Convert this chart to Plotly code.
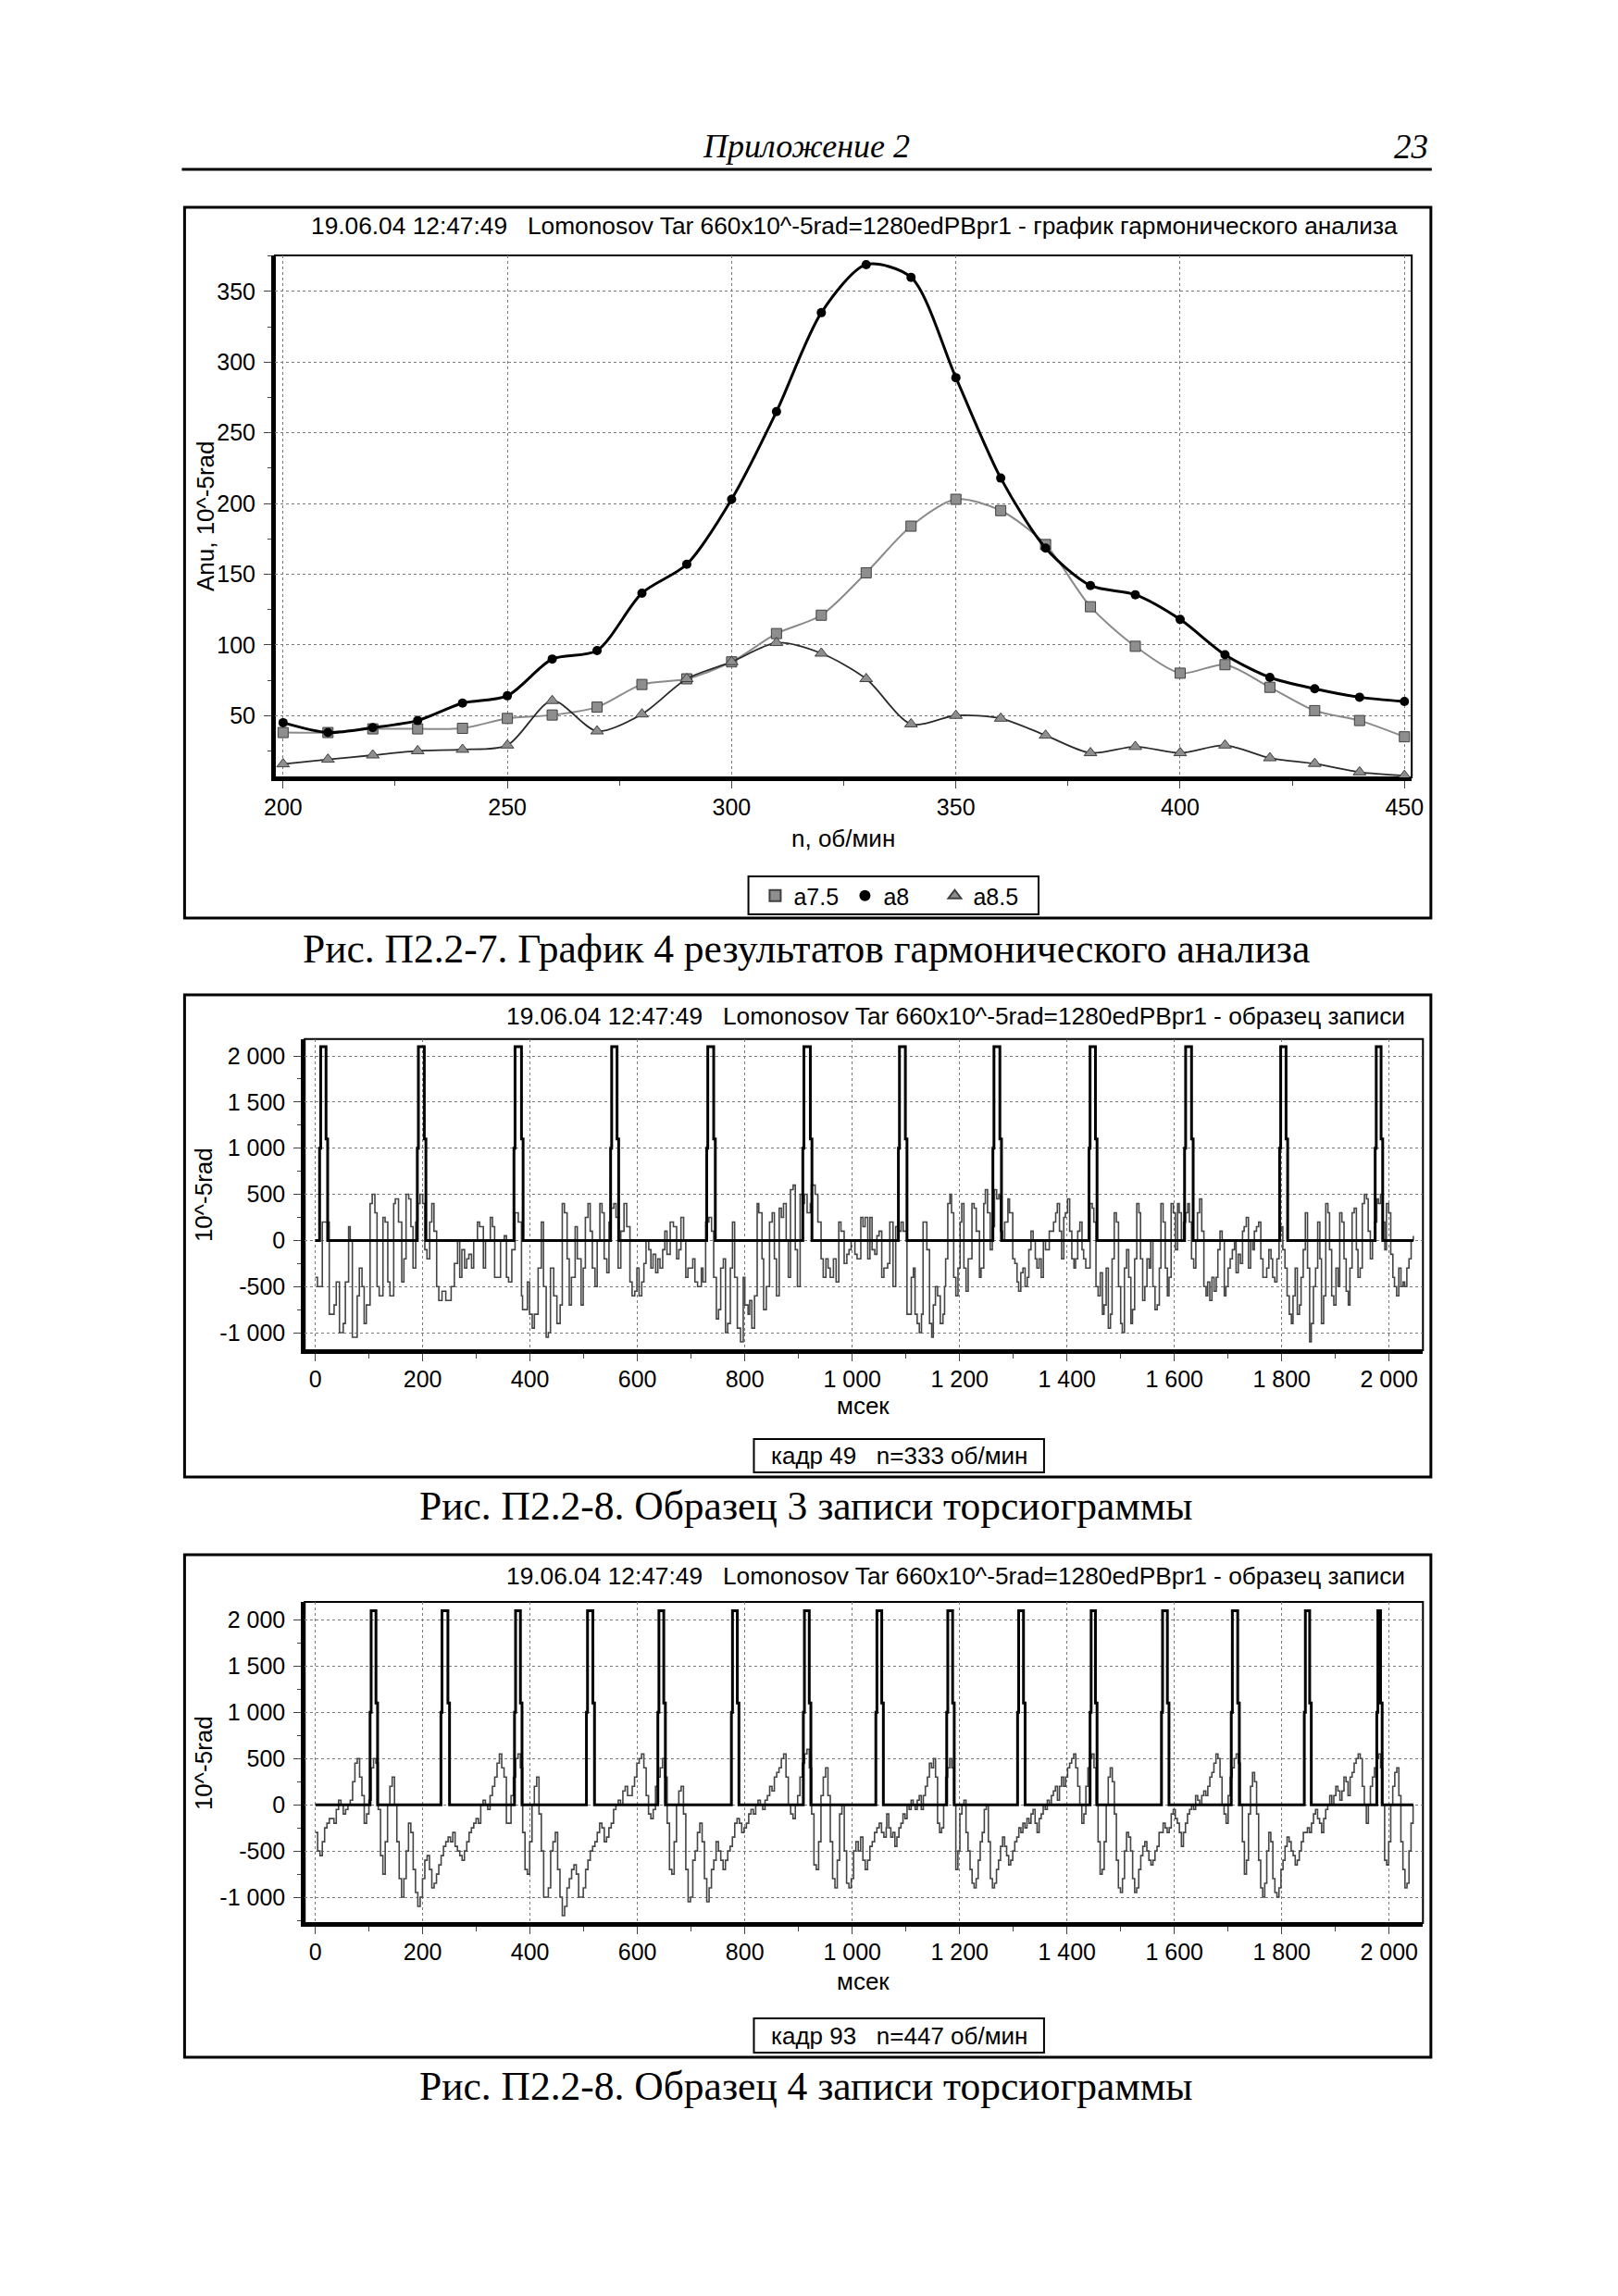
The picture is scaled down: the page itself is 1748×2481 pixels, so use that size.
import plotly.graph_objects as go

W, H = 1748, 2481
OFF = 8  # compensates the page's default body margin


def px(x):
    return (x - OFF) / W


def py(y):
    return 1 - (y - OFF) / H


# ---------------- Chart 1: harmonic analysis ----------------
n_rpm = [200, 210, 220, 230, 240, 250, 260, 270, 280, 290, 300, 310, 320,
         330, 340, 350, 360, 370, 380, 390, 400, 410, 420, 430, 440, 450]
a75 = [38, 38, 40.6, 40.6, 41, 48, 50.4, 56, 72, 76, 88, 108, 121,
       151, 184, 203, 195, 171, 127, 99, 80, 86, 70, 53.5, 46.5, 35]
a8 = [45, 38, 41.5, 46.5, 58.8, 64, 90, 96, 136.6, 157, 203, 265, 335,
      369, 360, 289, 218, 168.5, 142, 135.5, 118, 93, 77, 69, 63, 60]
a85 = [15.7, 19, 22, 25, 26, 29, 60.5, 39, 51, 76, 88, 101.5, 94,
       76, 44, 50, 48, 36, 23.6, 28, 23.6, 29, 20, 16, 10, 7.5]
legend1_names = ["a7.5", "a8", "a8.5"]

# ---------------- Chart 2: record sample 3 (n=333) ----------------
sig2 = [
    (0, -400), (4, -500), (13, 200), (26, -800), (35, -700), (39, -450), (45, -1000), (52, -900),
    (56, -450), (62, 150), (65, 0), (69, -1050), (78, -600), (82, -300), (87, -500), (91, -900),
    (95, -700), (102, 400), (106, 500), (111, 300), (115, -500), (119, -600), (126, 250), (130, 200),
    (135, -450), (139, -600), (146, 400), (149, 450), (155, 200), (161, -450), (165, -200), (169, 500),
    (174, 450), (178, 150), (182, -300), (187, 200), (191, 400), (195, 500), (200, 400), (204, -100),
    (208, -200), (213, 200), (217, 400), (221, 100), (226, -500), (230, -650), (236, -550), (243, -650),
    (247, -650), (253, -500), (259, -250), (265, 0), (269, -400), (273, -100), (278, -300), (282, -200),
    (286, -150), (291, -300), (295, 0), (302, 200), (306, 150), (313, -300), (317, 0), (326, 250),
    (330, 150), (334, -400), (339, -400), (345, 0), (352, 50), (356, -400), (360, -450), (366, -100),
    (372, 300), (378, 200), (384, -600), (386, -750), (395, -450), (399, -800), (404, -950), (408, -800),
    (415, -300), (421, 200), (425, -500), (430, -1050), (434, -1000), (438, -300), (444, -600), (450, -900),
    (456, -700), (460, 400), (464, 300), (469, -200), (473, -700), (477, -400), (484, 150), (488, -200),
    (495, -700), (499, -300), (503, 250), (508, 400), (512, 100), (516, -300), (521, -500), (525, 0),
    (530, 400), (534, 300), (538, -200), (543, -350), (547, 200), (551, 350), (556, 400), (560, 250),
    (564, -300), (569, 100), (575, 400), (580, 150), (586, -450), (590, -600), (595, -550), (599, -300),
    (603, -600), (608, -450), (612, -250), (616, 0), (621, -100), (625, -300), (629, -150), (634, -350),
    (638, -200), (642, -300), (647, -100), (651, 100), (655, -150), (661, 200), (667, 150), (673, -200),
    (677, -100), (681, 250), (686, 0), (690, -400), (694, -300), (699, -300), (703, -200), (707, -450),
    (712, -500), (719, -300), (722, -450), (727, 200), (733, 250), (738, 100), (742, -400), (747, -850),
    (751, -750), (755, -300), (760, -200), (764, -1000), (768, -900), (773, -300), (777, 200), (781, -400),
    (786, -950), (792, -1100), (797, -400), (800, -700), (806, -800), (809, -650), (813, -950), (818, -600),
    (823, 400), (826, 300), (832, -200), (835, -750), (840, -500), (846, 200), (851, 300), (855, -200),
    (859, -600), (864, 350), (868, 250), (872, 400), (877, 0), (881, -400), (885, 550), (890, 600),
    (894, -100), (898, -500), (903, 500), (907, 400), (911, 500), (916, 300), (922, 400), (924, 600),
    (931, 500), (936, 200), (942, -200), (946, -400), (951, -200), (955, -300), (959, -400), (965, -200),
    (970, -450), (975, 200), (979, 100), (985, -250), (990, -150), (994, -100), (998, 0), (1005, -150),
    (1009, -200), (1016, 250), (1020, 150), (1024, 250), (1029, -200), (1033, 250), (1037, -100), (1042, -150),
    (1046, 50), (1050, 100), (1055, -400), (1059, -300), (1066, -250), (1070, 200), (1076, -500), (1081, 150),
    (1087, 100), (1091, 200), (1095, 100), (1102, -800), (1110, -400), (1114, -300), (1117, -800), (1121, -900),
    (1125, -1000), (1129, -800), (1132, 200), (1139, -100), (1144, -900), (1148, -1050), (1151, -700), (1155, -500),
    (1159, -600), (1164, -900), (1169, -800), (1172, -500), (1174, -200), (1178, 400), (1182, 500), (1185, 300),
    (1189, -400), (1193, -600), (1197, -300), (1201, 200), (1204, 400), (1208, -300), (1212, -550), (1216, -200),
    (1223, 400), (1227, 350), (1231, 100), (1237, -400), (1240, -300), (1245, 400), (1248, 550), (1252, 300),
    (1257, -100), (1261, 150), (1265, 550), (1269, 450), (1273, 500), (1276, 100), (1280, 0), (1284, 200),
    (1290, 450), (1293, 300), (1299, -200), (1303, -250), (1307, -450), (1310, -550), (1314, -350), (1318, -300),
    (1322, -500), (1326, -400), (1329, -100), (1333, 100), (1337, 0), (1341, -200), (1344, -300), (1348, -200),
    (1352, -400), (1356, 0), (1360, -100), (1367, 100), (1375, 200), (1379, 300), (1382, 400), (1386, 100),
    (1390, -200), (1394, 250), (1397, 300), (1401, 450), (1405, 100), (1409, -200), (1413, -300), (1416, -200),
    (1420, 100), (1424, 200), (1428, -100), (1431, -200), (1435, -300), (1439, -300), (1443, 400), (1447, 350),
    (1450, 200), (1454, -500), (1458, -600), (1462, -350), (1466, -800), (1469, -700), (1473, -300), (1477, -950),
    (1481, -800), (1484, -200), (1488, 300), (1492, 200), (1496, -500), (1500, -900), (1503, -1000), (1507, -300),
    (1511, -100), (1515, -400), (1519, -900), (1522, -750), (1526, -200), (1530, 400), (1534, 300), (1537, -200),
    (1541, -650), (1545, -500), (1549, -200), (1553, -300), (1556, 0), (1560, -500), (1564, -750), (1568, -700),
    (1572, -300), (1575, 400), (1579, 200), (1583, -300), (1587, -600), (1590, -400), (1594, 400), (1598, 300),
    (1602, -100), (1606, 400), (1609, 300), (1613, 0), (1617, 200), (1621, 300), (1625, 400), (1628, 200),
    (1632, -200), (1636, -300), (1640, 0), (1643, 300), (1647, 450), (1651, 100), (1655, -500), (1659, -600),
    (1662, -450), (1666, -650), (1670, -400), (1674, -550), (1678, -400), (1681, -100), (1685, 100), (1689, 0),
    (1693, -600), (1696, -500), (1700, -300), (1704, -200), (1708, -100), (1712, 0), (1715, -350), (1719, -150),
    (1723, -250), (1727, 100), (1730, 150), (1734, 250), (1738, -300), (1742, 0), (1746, -100), (1749, 100),
    (1753, 150), (1757, 200), (1761, -200), (1765, -400), (1768, -400), (1772, -300), (1776, -100), (1780, -200),
    (1783, -400), (1787, -450), (1791, -200), (1795, 100), (1799, 150), (1802, -100), (1806, -300), (1810, -600),
    (1814, -800), (1818, -900), (1821, -600), (1825, -300), (1829, -800), (1833, -700), (1836, -400), (1840, -100),
    (1844, 300), (1848, -300), (1852, -1100), (1855, -900), (1859, -500), (1863, -300), (1867, 200), (1871, -200),
    (1874, -900), (1878, -600), (1882, 400), (1886, 300), (1889, -100), (1893, -600), (1897, -700), (1901, -300),
    (1905, -500), (1908, 300), (1912, 200), (1916, -200), (1920, -550), (1924, -700), (1927, -300), (1931, 300),
    (1935, 350), (1939, -100), (1942, -400), (1946, -300), (1950, 400), (1954, 500), (1958, 450), (1961, 100),
    (1965, -200), (1969, 0), (1973, 200), (1977, 450), (1980, 400), (1984, 500), (1988, 200), (1992, -100),
    (1995, 400), (1999, 300), (2003, -150), (2007, -400), (2010, -500), (2014, -600), (2018, -300), (2022, -500),
    (2026, -450), (2029, -500), (2033, -300), (2037, -200), (2041, 0), (2045, 50),
]
pulse2_start = [8, 190, 370, 550, 729, 908, 1086, 1262, 1441, 1619, 1796, 1974]
pulse2_end = [20, 203, 384, 562, 742, 922, 1099, 1275, 1453, 1632, 1808, 1985]
legend2_text = "кадр 49\u00a0\u00a0\u00a0n=333 об/мин"

# ---------------- Chart 3: record sample 4 (n=447) ----------------
sig3_left_t0, sig3_left_dt = 0.0, 4.34
sig3_left = [
    -300, -500, -550, -400, -250, -200, -150, -150, -200, -50, 50, 0, -100, -50, 0, 50,
    250, 450, 500, 300, 100, -200, -100, 50, 400, 500, 450, -50, -550, -750, -400, 0,
    200, 300, 0, -400, -800, -1000, -800, -500, -200, -300, -700, -950, -1100, -1000, -800, -600,
    -550, -700, -900, -850, -750, -650, -550, -450, -400, -350, -400, -300, -450, -500, -550, -600,
    -500, -400, -300, -250, -200, -150, -200, 0, 50, 0, -50, 100, 200, 300, 450, 550,
    400, 300, -200, -200, 100, 300, 500, 550, 400, -300, -700, -750, -400, 0, 200, 300,
    -100, -500, -1000, -1000, -900, -500, -400, -300, -700, -1000, -1200, -1100, -900, -800, -700, -650,
    -750, -1000, -1000, -900, -700, -600, -500, -450, -400, -300, -200, -250, -400, -350, -250, -200,
    -50, 0, 50, 0, 150, 200, 100, 100, 200, 300, 450, 500, 550, 400, 100, -100,
    -150, -50, 200, 300, 400, 500, 300, -200, -700, -750, -400, 0, 150, 200, -100, -700,
    -1050, -1000, -600, -500, -300, -200, -400, -800, -1050, -900, -700, -600, -400, -500, -600, -700,
    -600, -500, -450, -350, -200, -150, -200, -300, -250, -200, -100, -50, -100, 0, 50, 0,
    -50, 50, 100, 200, 150, 300, 350, 400, 500, 550, 300, 0, -100, -150, 0, 100,
    300, 450, 550, 600, 400, -100, -650, -700, -400, 100, 300, 400, 100, -400, -800, -900,
    -600, -100, 0, -500, -850, -900, -800, -500, -400, -500, -350, -600, -700, -600, -450, -400,
    -300, -250, -200, -300, -350, -250,
]
sig3_right_t0, sig3_right_dt = 1064.3, 3.785
sig3_right = [
    -100, -250, -350, -300, -450, -350, -250, -200, -100, -150, 0, -50, 50, 0, -50, 50,
    100, -50, 100, 200, 300, 450, 400, 500, 300, -200, -300, -250, 0, 300, 400, 500,
    400, 0, -700, -500, -100, 0, 50, -300, -500, -700, -850, -900, -800, -600, -400, -300,
    -50, 0, -400, -800, -900, -850, -700, -600, -450, -350, -450, -550, -650, -600, -500, -400,
    -350, -250, -300, -200, -250, -150, -200, -100, -50, -200, -300, -150, -100, 0, -50, 50,
    0, 100, 150, 200, 50, 200, 300, 200, 300, 400, 450, 500, 550, 400, 200, 0,
    -200, -100, 200, 400, 500, 550, 400, 0, -400, -750, -700, -400, 0, 300, 400, 250,
    -100, -600, -900, -950, -800, -500, -300, -350, -500, -800, -950, -900, -700, -550, -450, -400,
    -500, -600, -650, -600, -500, -450, -300, -300, -200, -250, -300, -250, -100, -50, -150, -200,
    -300, -450, -300, -200, -100, -50, 0, -50, 100, 50, 0, 100, 150, 100, 200, 300,
    350, 450, 550, 500, 300, 0, -100, -200, 100, 300, 400, 500, 550, 450, 0, -400,
    -750, -600, -100, 200, 350, 250, -100, -600, -900, -1000, -850, -500, -300, -400, -800, -950,
    -1000, -900, -700, -600, -450, -350, -400, -500, -550, -650, -600, -500, -400, -300, -300, -250,
    -300, -200, -100, -50, -150, -200, -300, -150, -50, 0, 100, 0, 100, 200, 150, 50,
    150, 300, 250, 100, 300, 350, 450, 500, 550, 500, 200, 0, -200, 0, 200, 300,
    400, 500, 550, 400, 0, -600, -650, -400, 0, 200, 350, 400, 100, -400, -700, -900,
    -850, -500, -200, 0,
]
pulse3_start = [102, 234, 371, 505, 638, 775, 909, 1044, 1176, 1308, 1443, 1576, 1706, 1842, 1977]
pulse3_end = [113, 247, 382, 517, 649, 786, 920, 1055, 1187, 1319, 1453, 1587, 1718, 1852, 1984]
legend3_text = "кадр 93\u00a0\u00a0\u00a0n=447 об/мин"

# shared tick labels for torsiograms
ms_ticks = [0, 200, 400, 600, 800, 1000, 1200, 1400, 1600, 1800, 2000]
ms_labels = ["0", "200", "400", "600", "800", "1 000", "1 200", "1 400", "1 600", "1 800", "2 000"]
rad_ticks = [-1000, -500, 0, 500, 1000, 1500, 2000]
rad_labels = ["-1 000", "-500", "0", "500", "1 000", "1 500", "2 000"]

title1 = "19.06.04 12:47:49\u00a0\u00a0\u00a0Lomonosov Tar 660x10^-5rad=1280edPBpr1 - график гармонического анализа"
title23 = "19.06.04 12:47:49\u00a0\u00a0\u00a0Lomonosov Tar 660x10^-5rad=1280edPBpr1 - образец записи"
cap1 = "Рис. П2.2-7. График 4 результатов гармонического анализа"
cap2 = "Рис. П2.2-8. Образец 3 записи торсиограммы"
cap3 = "Рис. П2.2-8. Образец 4 записи торсиограммы"

SANS = "Liberation Sans, Arial, sans-serif"
SERIF = "Liberation Serif, Times New Roman, serif"


def pulse_xy(starts, ends, t_end):
    xs, ys = [0], [0]
    for s, e in zip(starts, ends):
        xs += [s, s + 2, e, e + 3]
        ys += [1000, 2100, 1100, 0]
    xs.append(t_end)
    ys.append(0)
    return xs, ys


fig = go.Figure()

# chart 1 traces
fig.add_trace(go.Scatter(x=n_rpm, y=a75, mode="lines+markers", showlegend=False,
                         line=dict(color="#8a8a8a", width=2, shape="spline", smoothing=0.8),
                         marker=dict(symbol="square", size=11, color="#8e8e8e",
                                     line=dict(color="#404040", width=1)),
                         xaxis="x", yaxis="y"))
fig.add_trace(go.Scatter(x=n_rpm, y=a85, mode="lines+markers", showlegend=False,
                         line=dict(color="#2a2a2a", width=1.8, shape="spline", smoothing=0.8),
                         marker=dict(symbol="triangle-up", size=12, color="#8e8e8e",
                                     line=dict(color="#404040", width=1)),
                         xaxis="x", yaxis="y"))
fig.add_trace(go.Scatter(x=n_rpm, y=a8, mode="lines+markers", showlegend=False,
                         line=dict(color="black", width=3, shape="spline", smoothing=0.8),
                         marker=dict(symbol="circle", size=10, color="black"),
                         xaxis="x", yaxis="y"))
leg_styles = [dict(symbol="square", size=8, color="#8e8e8e", line=dict(color="#404040", width=1)),
              dict(symbol="circle", size=7, color="black"),
              dict(symbol="triangle-up", size=9, color="#8e8e8e", line=dict(color="#404040", width=1))]
for name, st in zip(legend1_names, leg_styles):
    fig.add_trace(go.Scatter(x=[None], y=[None], mode="markers", name=name, marker=st,
                             xaxis="x", yaxis="y"))

# chart 2 traces
fig.add_trace(go.Scatter(x=[p[0] for p in sig2], y=[p[1] for p in sig2], mode="lines",
                         showlegend=False, line=dict(color="#454545", width=1.6, shape="hv"),
                         xaxis="x2", yaxis="y2"))
p2x, p2y = pulse_xy(pulse2_start, pulse2_end, 2045)
fig.add_trace(go.Scatter(x=p2x, y=p2y, mode="lines", showlegend=False,
                         line=dict(color="black", width=3, shape="hv"), xaxis="x2", yaxis="y2"))

# chart 3 traces
t3 = ([sig3_left_t0 + i * sig3_left_dt for i in range(len(sig3_left))] +
      [sig3_right_t0 + i * sig3_right_dt for i in range(len(sig3_right))])
v3 = sig3_left + sig3_right
fig.add_trace(go.Scatter(x=t3, y=v3, mode="lines", showlegend=False,
                         line=dict(color="#454545", width=1.6, shape="hv"),
                         xaxis="x3", yaxis="y3"))
p3x, p3y = pulse_xy(pulse3_start, pulse3_end, 2045)
fig.add_trace(go.Scatter(x=p3x, y=p3y, mode="lines", showlegend=False,
                         line=dict(color="black", width=3, shape="hv"), xaxis="x3", yaxis="y3"))

common = dict(showgrid=True, gridcolor="#7a7a7a", griddash="dot", gridwidth=1,
              showline=True, linecolor="black", linewidth=4, mirror=False,
              ticks="outside", ticklen=8, tickwidth=1, tickcolor="#444444",
              tickfont=dict(family=SANS, size=25, color="black"),
              zeroline=False, fixedrange=True)

# plot-area boxes in page pixels (left, top, right, bottom)
P1 = (289, 276, 1535, 840)
P2 = (321.7, 1122.7, 1547.3, 1459)
P3 = (321.7, 1731, 1547.3, 2078)


def dom_x(P):
    return [px(P[0]), px(P[2])]


def dom_y(P):
    return [py(P[3]), py(P[1])]


minor_x1 = dict(ticks="outside", ticklen=5, tickcolor="#444444", tickmode="linear",
                tick0=25, dtick=50, showgrid=False)
minor_y1 = dict(ticks="outside", ticklen=4, tickcolor="#444444", tickmode="linear",
                tick0=25, dtick=50, showgrid=False)
minor_xm = dict(ticks="outside", ticklen=5, tickcolor="#444444", tickmode="linear",
                tick0=100, dtick=200, showgrid=False)
minor_ym = dict(ticks="outside", ticklen=4, tickcolor="#444444", tickmode="linear",
                tick0=250, dtick=500, showgrid=False)

fig.update_layout(
    width=W, height=H, margin=dict(l=0, r=0, t=0, b=0),
    paper_bgcolor="white", plot_bgcolor="white",
    xaxis=dict(common, domain=dom_x(P1), range=[198.17, 451.63], anchor="y",
               tickmode="linear", tick0=0, dtick=50, ticklabelstandoff=-1, minor=minor_x1),
    yaxis=dict(common, domain=dom_y(P1), range=[6.3, 375.5], anchor="x",
               tickmode="linear", tick0=0, dtick=50, ticklabelstandoff=4, minor=minor_y1),
    xaxis2=dict(common, domain=dom_x(P2), range=[-19.7, 2063], anchor="y2",
                tickmode="array", tickvals=ms_ticks, ticktext=ms_labels,
                ticklabelstandoff=-2, minor=minor_xm),
    yaxis2=dict(common, domain=dom_y(P2), range=[-1190, 2184], anchor="x2",
                tickmode="array", tickvals=rad_ticks, ticktext=rad_labels,
                ticklabelstandoff=4, minor=minor_ym),
    xaxis3=dict(common, domain=dom_x(P3), range=[-19.7, 2063], anchor="y3",
                tickmode="array", tickvals=ms_ticks, ticktext=ms_labels,
                ticklabelstandoff=-2, minor=minor_xm),
    yaxis3=dict(common, domain=dom_y(P3), range=[-1280, 2195], anchor="x3",
                tickmode="array", tickvals=rad_ticks, ticktext=rad_labels,
                ticklabelstandoff=4, minor=minor_ym),
    legend=dict(orientation="h", x=px(817), y=py(968), xanchor="left", yanchor="middle",
                bgcolor="rgba(0,0,0,0)", borderwidth=0, itemsizing="constant",
                font=dict(family=SANS, size=25, color="black"), itemwidth=30,
                entrywidth=52, entrywidthmode="pixels", tracegroupgap=0),
)

shapes = []
shapes.append(dict(type="line", xref="paper", yref="paper", x0=px(187), x1=px(1557),
                   y0=py(183), y1=py(183), line=dict(color="black", width=3)))
for (y0, y1) in [(224, 992), (1075, 1596), (1680, 2223)]:
    shapes.append(dict(type="rect", xref="paper", yref="paper", x0=px(190), x1=px(1556),
                       y0=py(y0), y1=py(y1), line=dict(color="black", width=3)))
for P in (P1, P2, P3):
    shapes.append(dict(type="rect", xref="paper", yref="paper", x0=px(P[0]), x1=px(P[2]),
                       y0=py(P[3]), y1=py(P[1]), line=dict(color="black", width=2), layer="below"))
for (x0, y0, x1, y1) in [(808, 947, 1126, 988), (814, 1555, 1132, 1591), (814, 2181, 1132, 2218)]:
    shapes.append(dict(type="rect", xref="paper", yref="paper", x0=px(x0), x1=px(x1),
                       y0=py(y1), y1=py(y0), line=dict(color="black", width=2)))

ann = []


def text(x, y, s, size=26, family=SANS, xanchor="center", angle=0, italic=False):
    ann.append(dict(x=px(x), y=py(y), xref="paper", yref="paper", text=s, showarrow=False,
                    xanchor=xanchor, yanchor="middle", textangle=angle,
                    font=dict(family=family, size=size, color="black",
                              style="italic" if italic else "normal")))


# page header
text(871, 158, "Приложение 2", size=36, family=SERIF, italic=True)
text(1555, 158, "23", size=37, family=SERIF, xanchor="right", italic=True)
# chart titles
text(1522, 244, title1, size=26.3, xanchor="right")
text(1530, 1098, title23, size=26.3, xanchor="right")
text(1530, 1703, title23, size=26.3, xanchor="right")
# axis titles
text(213, 558, "Anu, 10^-5rad", size=26, angle=-90)
text(912, 906, "n, об/мин", size=26)
text(211, 1291, "10^-5rad", size=26, angle=-90)
text(934, 1519, "мсек", size=26)
text(211, 1905, "10^-5rad", size=26, angle=-90)
text(934, 2141, "мсек", size=26)
# legend texts for torsiograms
text(973, 1573, legend2_text, size=26)
text(973, 2200, legend3_text, size=26)
# captions
text(871, 1025, cap1, size=43.5, family=SERIF)
text(871, 1627, cap2, size=43.5, family=SERIF)
text(871, 2254, cap3, size=43.5, family=SERIF)

fig.update_layout(shapes=shapes, annotations=ann)

fig.write_html("out.html")
